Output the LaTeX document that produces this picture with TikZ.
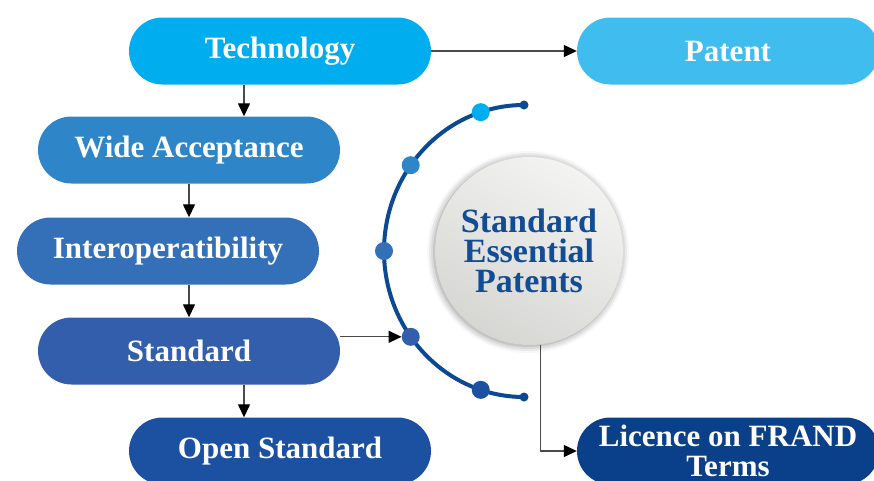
\documentclass[tikz,border=0pt]{standalone}
\usepackage{fontspec}
\setmainfont{Liberation Serif}
\usetikzlibrary{shapes.misc,arrows.meta,shadows.blur}

\definecolor{cTech}{HTML}{00AEEF}
\definecolor{cPat}{HTML}{3FBDEE}
\definecolor{cWide}{HTML}{2E86C8}
\definecolor{cInter}{HTML}{3470B8}
\definecolor{cStd}{HTML}{325EAB}
\definecolor{cOpen}{HTML}{1C50A1}
\definecolor{cLic}{HTML}{0A3F89}
\definecolor{cArc}{HTML}{0B4A93}
\definecolor{cSepText}{HTML}{124C95}
\definecolor{cSepLight}{HTML}{F3F3F1}
\definecolor{cSepDark}{HTML}{D6D6D3}
\definecolor{cLine}{HTML}{4A4A4A}

\tikzset{
  pill/.style={rounded rectangle, minimum width=302, minimum height=67,
    inner sep=0pt, text=white, align=center,
    font=\fontsize{31}{30}\selectfont\bfseries},
  arr/.style={draw=cLine, line width=1.3pt,
    -{Triangle[length=13pt,width=12pt,color=black]}},
  arcline/.style={draw=cArc, line width=4pt},
  bigdot/.style={circle, minimum size=18, inner sep=0pt},
  enddot/.style={circle, minimum size=9, inner sep=0pt, fill=cArc},
}

\begin{document}
\begin{tikzpicture}[x=1pt, y=-1pt]
  \useasboundingbox (0,0) rectangle (874,480);

  % flow boxes
  \node[pill, fill=cTech]  (tech)  at (280,51)  {Technology};
  \node[pill, fill=cPat]   (pat)   at (728,51)  {Patent};
  \node[pill, fill=cWide]  (wide)  at (189,150) {Wide Acceptance};
  \node[pill, fill=cInter] (inter) at (168,251) {Interoperatibility};
  \node[pill, fill=cStd]   (std)   at (189,351) {Standard};
  \node[pill, fill=cOpen]  (open)  at (280,451) {Open Standard};
  \node[pill, fill=cLic]   (lic)   at (728,451) {Licence on FRAND\\Terms};

  % semicircular track with its dots
  \coordinate (ac) at (524,251);
  \draw[arcline] (524,105) arc[start angle=270, end angle=90, x radius=140, y radius=146];
  \node[enddot] (e1) at (524,105) {};
  \node[enddot] (e2) at (524,397) {};
  \node[bigdot, fill=cTech]  (d1) at ($(ac)+(252:140 and 146)$) {};
  \node[bigdot, fill=cWide]  (d2) at ($(ac)+(216:140 and 146)$) {};
  \node[bigdot, fill=cInter] (d3) at ($(ac)+(180:140 and 146)$) {};
  \node[bigdot, fill=cStd]   (d4) at ($(ac)+(144:140 and 146)$) {};
  \node[bigdot, fill=cOpen]  (d5) at ($(ac)+(108:140 and 146)$) {};

  % central disc
  \node[circle, minimum size=188, inner sep=0pt,
        top color=cSepLight, bottom color=cSepDark, shading angle=-30,
        blur shadow={shadow xshift=-1pt, shadow yshift=-1pt,
                     shadow blur radius=7pt, shadow opacity=45},
        text=cSepText, align=center,
        font=\fontsize{34}{30}\selectfont\bfseries]
        (sep) at (529,251) {Standard\\Essential\\Patents};

  % connectors
  \draw[arr] (tech.east) -- (pat.west);
  \draw[arr] ([xshift=-36pt]tech.south) -- ([xshift=-36pt]tech.south |- wide.north);
  \draw[arr] (wide.south) -- (wide.south |- inter.north);
  \draw[arr] (std.north |- inter.south) -- (std.north);
  \draw[arr] ([xshift=-36pt]open.north |- std.south) -- ([xshift=-36pt]open.north);
  \draw[arr] (std.east |- d4) -- (d4.west);
  \draw[arr] (sep.-83) |- (lic.west);
\end{tikzpicture}
\end{document}
